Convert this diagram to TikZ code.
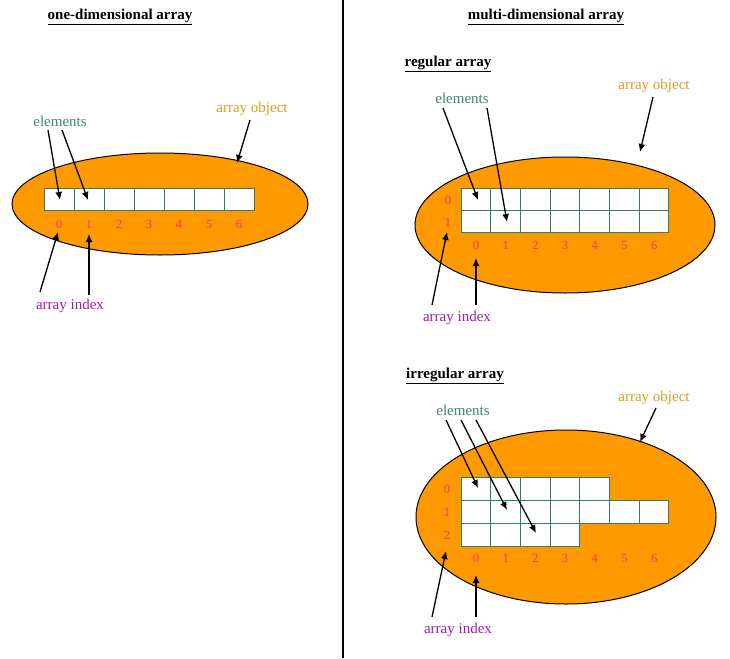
\documentclass[tikz,border=0pt]{standalone}
\usetikzlibrary{shapes.geometric,arrows.meta}
\usepackage{fontspec}
\setmainfont{Liberation Serif}
\begin{document}
\begin{tikzpicture}[x=1pt,y=-1pt,
  lbl/.style={font=\fontsize{15}{17}\selectfont,inner sep=0pt},
  ttl/.style={font=\fontsize{15}{17}\selectfont\bfseries,inner sep=0pt},
  idx/.style={font=\fontsize{12.5}{14}\selectfont,text=idxc,inner sep=0pt},
  cell/.style={draw=cellc,fill=white,line width=1pt},
  ell/.style={draw=black,fill=orng,line width=1pt},
  arr/.style={-{Latex[length=8pt,width=7pt]},line width=1.3pt}]
\definecolor{orng}{HTML}{FF9900}
\definecolor{cellc}{HTML}{2E7D6E}
\definecolor{elc}{HTML}{3D8A70}
\definecolor{idxc}{HTML}{FF3366}
\definecolor{aic}{HTML}{A020A0}
\definecolor{aoc}{HTML}{D9A020}
\useasboundingbox (0,0) rectangle (730,658);
\fill[white] (0,0) rectangle (730,658);
\draw[line width=1.5pt] (343,0) -- (343,658);
\node[ttl] (t1) at (120,17) {\underline{one-dimensional array}};
\node[ttl] (t2) at (546,17) {\underline{multi-dimensional array}};
% one-dim
\node[ell,ellipse,minimum width=296,minimum height=102] (e1) at (160,204) {};
\foreach \i in {0,...,6}{
  \draw[cell] (44+30*\i,188) rectangle (74+30*\i,210);
  \node[idx] at (59+30*\i,224) {\i};}
\node[lbl,text=elc] (el1) at (60,121) {elements};
\node[lbl,text=aoc] (ao1) at (252,109) {array object};
\node[lbl,text=aic] (ai1) at (70,306) {array index};
\coordinate (c1a) at (60,200); \coordinate (c1b) at (88,200);
\coordinate (i1a) at (58,232); \coordinate (i1b) at (89,234);
\coordinate (o1) at (237,163);
\draw[arr] (48,130) -- (c1a);
\draw[arr] (62,130) -- (c1b);
\draw[arr] (250,120) -- (o1);
\draw[arr] (40,292) -- (i1a);
\draw[arr] (89,295) -- (i1b);
% regular
\node[ttl] (t3) at (448,64) {\underline{regular array}};
\node[ell,ellipse,minimum width=300,minimum height=136] (e2) at (565,225) {};
\foreach \r in {0,1}{
 \foreach \i in {0,...,6}{
  \draw[cell] (461+29.7*\i,188+22*\r) rectangle (490.7+29.7*\i,210+22*\r);}
 \node[idx] at (448,200+22*\r) {\r};}
\foreach \i in {0,...,6}{\node[idx] at (476+29.7*\i,245) {\i};}
\node[lbl,text=elc] (el2) at (462,98) {elements};
\node[lbl,text=aoc] (ao2) at (654,86) {array object};
\node[lbl,text=aic] (ai2) at (457,318) {array index};
\draw[arr] (443,108) -- (478,200);
\draw[arr] (487,108) -- (507,222);
\draw[arr] (653,97) -- (640,152);
\draw[arr] (432,305) -- (447,232);
\draw[arr] (476,305) -- (476,258);
% irregular
\node[ttl] (t4) at (455,376) {\underline{irregular array}};
\node[ell,ellipse,minimum width=300,minimum height=174] (e3) at (566,517) {};
\foreach \r/\n in {0/4,1/6,2/3}{
 \foreach \i in {0,...,\n}{
  \draw[cell] (461+29.7*\i,477+23.3*\r) rectangle (490.7+29.7*\i,500.3+23.3*\r);}
 \node[idx] at (447,489+23*\r) {\r};}
\foreach \i in {0,...,6}{\node[idx] at (476+29.7*\i,558) {\i};}
\node[lbl,text=elc] (el3) at (463,410) {elements};
\node[lbl,text=aoc] (ao3) at (654,398) {array object};
\node[lbl,text=aic] (ai3) at (458,630) {array index};
\draw[arr] (446,420) -- (478,488);
\draw[arr] (461,420) -- (507,510);
\draw[arr] (476,420) -- (536,533);
\draw[arr] (656,408) -- (640,442);
\draw[arr] (432,617) -- (446,551);
\draw[arr] (476,617) -- (476,575);
\end{tikzpicture}
\end{document}
